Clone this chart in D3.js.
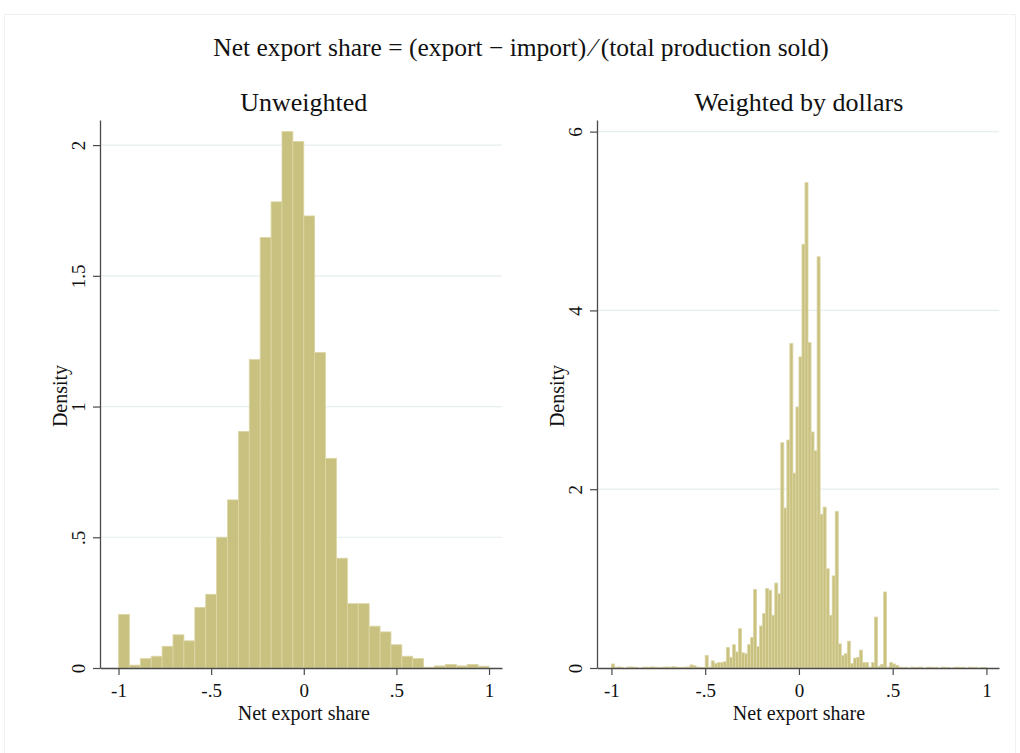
<!DOCTYPE html>
<html>
<head>
<meta charset="utf-8">
<script src="https://cdn.jsdelivr.net/npm/d3@7"></script>
<style>
  body { margin: 0; background: #fff; }
  svg text { font-family: "Liberation Serif", "Times New Roman", serif; fill: #111; }
</style>
</head>
<body>
<div id="chart"></div>
<script>
// chart text
var mainTitle = "Net export share = (export \u2212 import)\u2009\u2044\u2009(total production sold)";
var panelTitles = ["Unweighted", "Weighted by dollars"];
var xLabel = "Net export share";
var yLabel = "Density";

// x ticks shared by both panels
var xTicks = [-1, -0.5, 0, 0.5, 1];

// unweighted histogram: 34 bins from -1 to 1, density per bin
var leftDensity = [
  0.205, 0.011, 0.036, 0.045, 0.083, 0.127, 0.104, 0.232, 0.282, 0.50,
  0.643, 0.905, 1.18, 1.647, 1.783, 2.052, 2.014, 1.729, 1.207, 0.802,
  0.42, 0.246, 0.246, 0.16, 0.138, 0.089, 0.045, 0.036, 0.003, 0.008,
  0.014, 0.008, 0.014, 0.007
];
var leftYTicks = [0, 0.5, 1, 1.5, 2];

// weighted histogram: 124 bins from -1 to 1, density per bin
var rightDensity = [
  0.045, 0.008, 0.012, 0.008, 0, 0.010, 0.012, 0.010, 0.005, 0,
  0.008, 0.010, 0.008, 0.012, 0.010, 0.005, 0.008, 0.010, 0.012, 0.008,
  0.015, 0.010, 0.008, 0.005, 0.010, 0.012, 0.035, 0.025, 0.010, 0.008,
  0.005, 0.14, 0.01, 0.08, 0.05, 0.06, 0.06, 0.07, 0.23, 0.12,
  0.26, 0.18, 0.44, 0.17, 0.16, 0.26, 0.34, 0.88, 0.24, 0.47,
  0.61, 0.89, 0.87, 0.59, 0.95, 0.83, 2.52, 1.79, 2.55, 3.63,
  2.18, 2.92, 3.48, 4.74, 5.43, 3.64, 2.64, 2.43, 4.60, 1.72,
  1.80, 1.11, 0.59, 1.03, 1.75, 0.27, 0.14, 0.16, 0.30, 0.05,
  0.11, 0.12, 0.20, 0.06, 0.06, 0.01, 0.06, 0.57, 0.02, 0.04,
  0.85, 0.01, 0.06, 0.045, 0.03, 0.01, 0.005, 0.008, 0, 0.01,
  0.005, 0.008, 0.01, 0, 0.008, 0.01, 0.005, 0.008, 0, 0.01,
  0.008, 0.005, 0, 0.008, 0.01, 0.005, 0.008, 0, 0.01, 0.005,
  0.008, 0, 0.005, 0.008
];
var rightYTicks = [0, 2, 4, 6];

var W = 1020, H = 753;
var barFill = "#c9c17f", barStroke = "#dcd6a6";
var gridColor = "#e6eef0", axisColor = "#4a4a4a";

var svg = d3.select("#chart").append("svg")
    .attr("width", W)
    .attr("height", H);

// faint outer frame
svg.append("rect")
    .attr("x", 4.5).attr("y", 14.5)
    .attr("width", W - 9).attr("height", H - 14)
    .attr("fill", "none")
    .attr("stroke", "#f0f0f0");

svg.append("text")
    .attr("x", 521).attr("y", 56)
    .attr("text-anchor", "middle")
    .style("font-size", "25.5px")
    .text(mainTitle);

var panels = [
  { title: panelTitles[0], data: leftDensity, yTicks: leftYTicks,
    left: 100, right: 502, xDom: [-1.1, 1.07], yDom: [0, 2.096] },
  { title: panelTitles[1], data: rightDensity, yTicks: rightYTicks,
    left: 597, right: 999, xDom: [-1.077, 1.067], yDom: [0, 6.13] }
];

var plotTop = 120, plotBottom = 668;

function fmt(v) {
  if (v === 0) return "0";
  return String(v).replace(/^(-?)0\./, "$1.");
}

panels.forEach(function(p) {
  var x = d3.scaleLinear().domain(p.xDom).range([p.left, p.right]);
  var y = d3.scaleLinear().domain(p.yDom).range([plotBottom, plotTop]);
  var bw = 2 / p.data.length;

  var g = svg.append("g");

  // gridlines
  g.selectAll("line.grid")
    .data(p.yTicks.filter(function(d) { return d > 0; }))
    .enter().append("line")
      .attr("class", "grid")
      .attr("x1", p.left).attr("x2", p.right)
      .attr("y1", function(d) { return y(d); })
      .attr("y2", function(d) { return y(d); })
      .attr("stroke", gridColor)
      .attr("stroke-width", 1.2);

  // bars
  g.selectAll("rect.bar")
    .data(p.data)
    .enter().append("rect")
      .attr("class", "bar")
      .attr("x", function(d, i) { return x(-1 + i * bw); })
      .attr("width", function(d, i) { return x(-1 + (i + 1) * bw) - x(-1 + i * bw); })
      .attr("y", function(d) { return y(d); })
      .attr("height", function(d) { return plotBottom - y(d); })
      .attr("fill", barFill)
      .attr("stroke", barStroke)
      .attr("stroke-width", 0.8);

  // x axis
  var xa = g.append("g")
      .attr("transform", "translate(0," + plotBottom + ")")
      .call(d3.axisBottom(x).tickValues(xTicks).tickFormat(fmt)
        .tickSize(7).tickPadding(9).tickSizeOuter(0));
  xa.select(".domain").attr("stroke", axisColor).attr("stroke-width", 1.3);
  xa.selectAll(".tick line").attr("stroke", axisColor).attr("stroke-width", 1.2);
  xa.selectAll(".tick text")
      .style("font-size", "19px")
      .style("font-family", "Liberation Serif, serif")
      .attr("fill", "#111");

  // y axis, labels turned on their side like Stata
  var ya = g.append("g")
      .attr("transform", "translate(" + p.left + ",0)")
      .call(d3.axisLeft(y).tickValues(p.yTicks).tickFormat(fmt)
        .tickSize(7).tickSizeOuter(0));
  ya.select(".domain").attr("stroke", axisColor).attr("stroke-width", 1.3);
  ya.selectAll(".tick line").attr("stroke", axisColor).attr("stroke-width", 1.2);
  ya.selectAll(".tick text")
      .attr("x", 0).attr("y", 0).attr("dy", "0.35em")
      .attr("text-anchor", "middle")
      .attr("transform", "translate(-22,0) rotate(-90)")
      .attr("fill", "#111")
      .style("font-size", "19px")
      .style("font-family", "Liberation Serif, serif");

  // titles
  var cx = x(0);
  g.append("text")
      .attr("x", cx).attr("y", 111)
      .attr("text-anchor", "middle")
      .style("font-size", "26px")
      .text(p.title);

  g.append("text")
      .attr("x", cx).attr("y", 720)
      .attr("text-anchor", "middle")
      .style("font-size", "20px")
      .text(xLabel);

  g.append("text")
      .attr("transform", "translate(" + (p.left - 40) + "," + ((plotTop + plotBottom) / 2 + 2) + ") rotate(-90)")
      .attr("dy", "0.35em")
      .attr("text-anchor", "middle")
      .style("font-size", "20px")
      .text(yLabel);
});
</script>
</body>
</html>
